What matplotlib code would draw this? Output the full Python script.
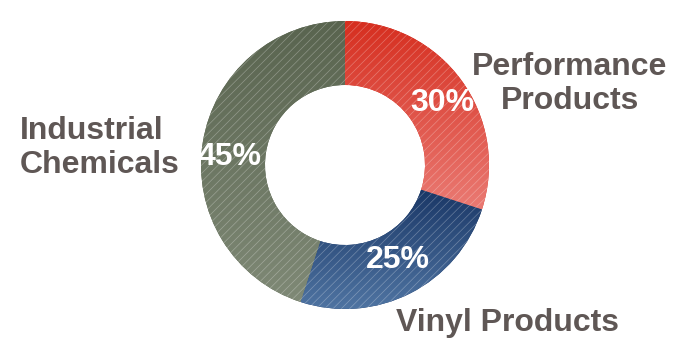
import matplotlib
matplotlib.use("Agg")
import matplotlib.pyplot as plt
import numpy as np
from matplotlib.colors import LinearSegmentedColormap

# ── Data ──────────────────────────────────────────────
segments = ["Performance Products", "Vinyl Products", "Industrial Chemicals"]
shares = [30, 25, 45]
share_labels = ["30%", "25%", "45%"]
# (dark top colour, light bottom colour) per segment
grad_colors = [("#D62E1F", "#EA7A73"), ("#1A3766", "#4F74A2"), ("#59644F", "#7F8976")]

W, H = 675, 340
CX, CY = 345, 340 - 165
R_OUT, R_IN = 144, 80

plt.rcParams["font.family"] = ["Liberation Sans", "DejaVu Sans"]
plt.rcParams["hatch.linewidth"] = 0.5

fig = plt.figure(figsize=(W / 100, H / 100), dpi=100)
ax = fig.add_axes([0, 0, 1, 1])

wedges, _ = ax.pie(shares, startangle=90, counterclock=False, radius=R_OUT,
                   center=(CX, CY), colors=[c[0] for c in grad_colors],
                   wedgeprops=dict(width=R_OUT - R_IN, linewidth=0), frame=True)

# vertical gradient per wedge: dark at top, light at bottom
grad = np.linspace(0, 1, 256).reshape(-1, 1)
for w, (c_dark, c_light) in zip(wedges, grad_colors):
    bb = w.get_path().get_extents()
    cmap = LinearSegmentedColormap.from_list("g", [c_light, c_dark])
    im = ax.imshow(grad, cmap=cmap, aspect="auto", origin="lower",
                   extent=(bb.x0, bb.x1, bb.y0, bb.y1), zorder=2)
    im.set_clip_path(w)
    # fine white diagonal hatching on top
    hw = matplotlib.patches.Wedge((CX, CY), R_OUT, w.theta1, w.theta2, width=R_OUT - R_IN,
                                  facecolor="none", edgecolor=(1, 1, 1, 0.3),
                                  hatch="////", linewidth=0, zorder=3)
    ax.add_patch(hw)

ax.set_xlim(0, W)
ax.set_ylim(0, H)
ax.set_aspect("equal")
ax.axis("off")

# percentage labels
pct_pos = [(442, 103), (398, 260), (230, 157)]
for (x, y), t in zip(pct_pos, share_labels):
    ax.text(x, H - y, t, color="white", fontsize=23, fontweight="bold",
            ha="center", va="center", zorder=5)

# segment labels
lab_col = "#5F5755"
ax.text(570, H - 84, "Performance\nProducts", color=lab_col, fontsize=23, fontweight="bold",
        ha="center", va="center", linespacing=1.2)
ax.text(20, H - 148, "Industrial\nChemicals", color=lab_col, fontsize=23, fontweight="bold",
        ha="left", va="center", linespacing=1.2)
ax.text(507, H - 323, "Vinyl Products", color=lab_col, fontsize=23, fontweight="bold",
        ha="center", va="center")

fig.savefig("out.png", dpi=100, facecolor="white")
